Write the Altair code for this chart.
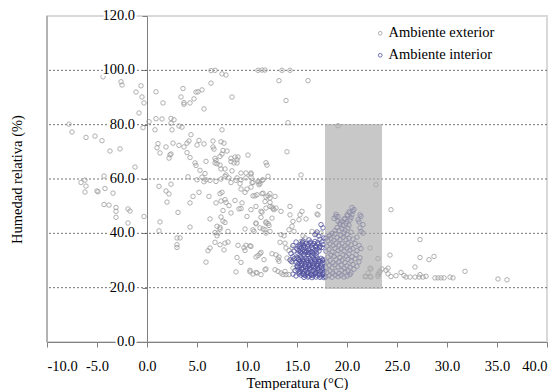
import altair as alt
import pandas as pd

# ---- data ----
series_names = ["Ambiente exterior", "Ambiente interior"]
series_colors = ["#9c9c9c", "#50509e"]

exterior = [
    (-7.8, 80.2), (-7.5, 77.3), (-6.1, 75.3), (-5.2, 75.8), (-4.5, 74.1), (-3.7, 70.3), (-2.7, 71.1),
    (-1.2, 64.4), (-4.3, 61.1), (-6.2, 59.6), (-6.6, 58.7), (-6.1, 57.4), (-6.2, 55.2), (-5.0, 55.6),
    (-4.9, 55.3), (-4.2, 56.5), (-3.4, 54.8), (-4.3, 50.6), (-3.8, 50.4), (-3.1, 49.5), (-3.1, 48.1),
    (-1.9, 49.0), (-1.7, 48.2), (-3.1, 45.9), (-1.9, 43.8), (-0.3, 46.2), (-4.4, 97.6), (-2.6, 95.8),
    (-2.5, 94.6), (-0.6, 94.3), (-1.1, 92.0), (-0.5, 90.2), (-0.3, 88.0), (-0.8, 84.3), (-0.4, 78.9),
    (0.2, 81.1), (0.9, 92.1), (1.6, 88.0), (0.9, 82.2), (1.5, 82.1), (0.8, 78.1), (2.4, 82.3),
    (2.7, 81.8), (2.4, 80.5), (2.5, 78.1), (3.2, 79.5), (3.5, 79.1), (1.1, 73.0), (1.0, 71.5),
    (1.3, 69.6), (1.9, 71.8), (2.3, 68.9), (2.2, 67.7), (2.4, 69.2), (2.6, 73.2), (3.2, 72.4),
    (3.6, 93.3), (3.4, 90.2), (3.7, 88.1), (3.7, 87.5), (4.3, 88.0), (4.7, 89.5), (4.9, 92.0),
    (5.1, 92.1), (5.5, 92.8), (5.7, 85.8), (4.4, 76.3), (3.7, 71.8), (4.0, 73.2), (4.2, 74.0),
    (4.0, 69.7), (4.3, 67.9), (4.8, 65.9), (4.9, 65.0), (5.0, 72.5), (5.2, 74.2), (5.7, 72.9),
    (5.3, 63.2), (5.8, 62.0), (5.9, 66.5), (4.1, 60.8), (5.0, 59.7), (5.5, 60.7), (5.7, 59.0),
    (1.2, 57.3), (2.4, 58.1), (1.9, 55.6), (2.2, 54.5), (2.0, 51.5), (3.1, 47.7), (1.3, 44.2),
    (1.2, 40.9), (3.0, 38.3), (3.3, 38.3), (3.0, 35.8), (3.0, 34.8), (4.3, 51.2), (4.6, 53.6),
    (5.2, 55.1), (4.3, 42.3),
    (6.4, 99.9), (6.8, 100.0), (6.4, 95.3), (7.5, 98.7), (7.9, 98.3), (8.5, 90.2), (7.5, 78.1),
    (6.6, 74.0), (6.6, 71.8), (6.7, 71.0), (7.4, 73.7), (7.7, 73.2), (7.6, 70.5), (8.0, 70.3),
    (7.5, 69.2), (7.3, 68.3), (6.8, 67.6), (6.9, 66.8), (6.8, 65.9), (7.0, 65.6), (7.3, 65.1),
    (7.8, 63.7), (7.4, 63.7), (8.4, 67.6), (8.8, 68.1), (9.0, 67.1), (9.1, 68.1), (9.0, 65.9),
    (8.7, 65.9), (8.4, 66.4), (10.1, 68.8), (8.5, 63.0), (9.4, 62.2), (9.9, 62.2), (10.4, 61.8),
    (5.9, 59.7), (6.3, 59.5), (6.9, 59.1), (7.4, 60.0), (7.9, 61.5), (7.8, 61.0), (8.2, 60.4),
    (8.4, 58.7), (8.9, 59.5), (9.0, 60.4), (9.4, 59.7), (9.9, 60.4), (10.4, 60.7), (9.3, 58.3),
    (9.4, 56.3), (9.8, 55.1), (10.0, 56.3), (10.4, 57.0), (10.5, 58.7),
    (6.2, 53.6), (6.9, 51.2), (7.3, 54.6), (7.5, 55.1), (7.4, 51.9), (7.8, 52.4), (7.9, 51.4),
    (7.6, 48.4), (6.3, 45.3), (7.4, 46.0), (7.6, 44.5), (7.8, 44.0), (7.3, 42.2), (6.8, 40.3),
    (7.1, 40.1), (7.0, 39.1), (8.1, 40.7), (6.8, 36.7), (7.3, 35.8), (7.8, 36.4), (8.1, 36.8),
    (6.3, 34.6), (6.1, 33.6), (7.7, 33.9), (5.9, 29.4), (8.8, 52.1), (9.2, 49.0), (8.2, 50.2),
    (8.4, 47.5), (9.5, 51.2), (9.4, 49.1), (10.4, 48.7), (10.0, 46.2), (9.8, 41.6), (9.1, 35.6),
    (9.7, 34.7), (9.8, 33.7), (10.4, 35.2), (9.9, 35.6), (9.0, 31.1), (9.4, 29.3), (8.9, 25.8),
    (10.3, 25.8), (10.6, 25.0), (7.0, 42.6), (7.3, 41.6),
    (11.1, 100.0), (11.5, 100.1), (11.8, 100.1), (13.5, 100.0), (14.3, 100.0), (13.2, 96.2),
    (16.1, 96.2), (13.9, 88.9), (14.1, 80.7), (14.0, 70.0), (11.9, 66.0), (12.0, 65.1), (12.1, 61.0),
    (15.4, 61.5), (10.4, 62.2), (10.6, 58.7), (11.2, 58.9), (11.6, 59.7), (11.2, 57.9), (11.3, 58.3),
    (11.5, 59.5), (11.1, 59.1), (10.6, 53.8), (11.0, 54.2), (11.5, 54.6), (12.1, 53.8), (12.3, 53.0),
    (11.8, 51.7), (12.3, 51.4), (10.9, 49.9), (12.5, 49.7), (12.9, 49.3), (12.7, 48.7), (13.4, 48.1),
    (11.5, 47.8), (12.5, 45.6), (14.3, 46.8), (14.3, 49.9), (10.9, 43.8), (11.9, 43.8), (12.1, 43.6),
    (11.3, 42.0), (11.8, 41.3), (12.3, 40.7), (10.7, 40.7), (14.6, 44.4), (14.5, 42.6), (14.2, 41.3),
    (14.7, 40.7), (13.4, 39.5), (13.7, 39.1), (13.3, 36.7), (13.8, 36.4), (10.3, 35.4), (11.4, 33.0),
    (11.1, 31.8), (10.9, 31.3), (11.7, 30.3), (12.5, 32.5), (12.9, 32.1), (13.2, 31.3), (13.1, 30.5),
    (13.2, 29.7), (13.9, 34.6), (14.2, 33.7), (14.5, 34.6), (14.0, 30.9), (14.4, 29.7), (10.3, 26.4),
    (11.0, 25.4), (11.4, 24.8), (10.9, 25.6), (11.9, 26.9), (11.8, 26.6), (12.8, 26.6), (13.1, 26.0),
    (13.4, 25.4), (13.6, 24.8), (13.9, 24.8), (14.2, 24.8), (13.8, 26.0), (14.8, 30.9), (14.6, 27.2),
    (11.3, 32.5), (11.4, 45.9), (11.4, 48.1), (11.9, 49.3), (12.3, 49.9), (12.6, 49.1), (11.6, 54.8),
    (11.9, 53.4), (12.3, 54.6), (12.8, 53.6), (11.6, 41.6), (11.9, 40.1), (10.9, 43.5), (11.9, 44.2),
    (12.2, 42.9), (10.8, 53.8), (10.6, 41.3),
    (15.3, 46.8), (15.5, 48.1), (15.2, 45.0), (15.9, 45.3), (17.2, 49.9), (17.1, 46.8), (17.0, 47.1),
    (15.6, 39.1), (15.8, 38.3), (15.4, 37.0), (16.5, 40.7), (16.9, 39.9), (17.4, 40.1), (19.1, 79.6),
    (22.9, 57.9), (24.4, 48.7), (22.3, 34.6), (23.1, 30.7), (22.3, 27.2), (22.1, 25.4), (21.9, 24.1),
    (22.3, 24.1), (23.1, 24.8), (23.3, 26.0), (23.5, 26.9), (23.9, 26.4), (24.1, 25.1), (24.1, 27.2),
    (24.4, 24.1), (24.9, 24.4), (25.4, 25.6), (25.7, 24.5), (25.9, 23.9), (26.3, 23.9), (26.8, 23.9),
    (27.2, 23.9), (27.3, 24.8), (27.6, 23.9), (27.9, 24.2), (26.8, 27.6), (27.3, 37.7), (27.3, 31.1),
    (28.2, 30.3), (28.7, 31.5), (24.3, 32.0), (28.8, 23.6), (29.1, 23.6), (29.4, 23.6), (29.7, 23.6),
    (30.3, 23.9), (30.6, 23.6), (31.8, 26.0), (35.1, 23.2), (36.0, 22.9), (22.4, 26.9), (22.4, 23.9),
    (23.1, 24.1), (23.2, 25.4), (21.8, 24.1),
]

interior = [
    # dense block, upper lobe
    (15.1, 35.2), (15.3, 35.8), (15.5, 36.1), (15.7, 35.5), (15.9, 36.3), (16.1, 35.9), (16.3, 36.4),
    (16.5, 35.7), (16.7, 36.2), (16.9, 35.4), (17.1, 36.0), (17.3, 35.3), (17.5, 34.8), (17.6, 35.9),
    (15.0, 34.3), (15.2, 33.6), (15.4, 34.5), (15.6, 33.9), (15.8, 34.6), (16.0, 33.4), (16.2, 34.1),
    (16.4, 33.2), (16.6, 34.4), (16.8, 33.7), (17.0, 34.2), (17.2, 33.5),
    (15.1, 32.6), (15.3, 32.1), (15.5, 32.8), (15.7, 32.3), (15.9, 32.9), (16.1, 32.2), (16.3, 32.7),
    (16.5, 32.0), (16.7, 32.5), (16.9, 31.8),
    (15.25, 35.0), (15.65, 34.9), (16.05, 35.1), (16.45, 34.8), (16.85, 35.0), (17.25, 34.7),
    (15.35, 33.1), (15.75, 33.3), (16.15, 32.9), (16.55, 33.0), (16.95, 32.8), (15.55, 36.6),
    (16.35, 36.8), (17.05, 36.5),
    # dense block, lower part
    (15.0, 30.8), (15.2, 30.2), (15.4, 31.0), (15.6, 30.4), (15.8, 30.9), (16.0, 30.1), (16.2, 30.7),
    (16.4, 30.3), (16.6, 31.0), (16.8, 30.5), (17.0, 30.9), (17.2, 30.2), (17.4, 30.8), (17.6, 30.4),
    (14.9, 29.4), (15.1, 28.8), (15.3, 29.6), (15.5, 28.9), (15.7, 29.5), (15.9, 28.7), (16.1, 29.3),
    (16.3, 28.6), (16.5, 29.4), (16.7, 28.8), (16.9, 29.5), (17.1, 28.9), (17.3, 29.6), (17.5, 28.7),
    (17.7, 29.3),
    (15.0, 28.0), (15.2, 27.4), (15.4, 28.1), (15.6, 27.3), (15.8, 27.9), (16.0, 27.2), (16.2, 28.0),
    (16.4, 27.5), (16.6, 28.2), (16.8, 27.4), (17.0, 28.0), (17.2, 27.3), (17.4, 27.9), (17.6, 27.1),
    (15.1, 26.5), (15.3, 26.0), (15.5, 26.6), (15.7, 25.9), (15.9, 26.4), (16.1, 25.8), (16.3, 26.5),
    (16.5, 25.9), (16.7, 26.3), (16.9, 25.7), (17.1, 26.4), (17.3, 25.9), (17.5, 26.5), (17.7, 25.8),
    (15.2, 25.1), (15.4, 24.6), (15.6, 25.2), (15.8, 24.5), (16.0, 25.0), (16.2, 24.3), (16.4, 24.9),
    (16.6, 24.4), (16.8, 25.1), (17.0, 24.6), (17.2, 25.0), (17.4, 24.3), (17.6, 24.8), (17.8, 24.2),
    (15.7, 23.8), (16.1, 23.9), (16.5, 23.7), (16.9, 23.9), (17.3, 23.8), (17.7, 23.7),
    (15.15, 30.5), (15.55, 29.9), (15.95, 30.6), (16.35, 29.8), (16.75, 30.2), (17.15, 29.7),
    (17.55, 30.0), (15.05, 27.7), (15.45, 27.0), (15.85, 27.6), (16.25, 26.9), (16.65, 27.7),
    (17.05, 27.0), (17.45, 27.5), (15.25, 25.6), (15.65, 24.9), (16.05, 25.5), (16.45, 24.7),
    (16.85, 25.4), (17.25, 24.8), (17.65, 25.3), (15.45, 29.1), (16.15, 28.4), (16.95, 28.3),
    (14.3, 30.2), (14.5, 29.5), (14.7, 30.6), (14.6, 31.4), (14.4, 32.6), (14.7, 33.5), (14.9, 36.8),
    (14.6, 35.5), (14.6, 25.0), (14.8, 26.3), (14.9, 24.3),
    (15.6, 37.2), (16.2, 37.6), (16.8, 37.0), (17.3, 37.8), (17.7, 38.3), (17.5, 36.9),
    # inside the comfort band
    (17.9, 23.9), (18.2, 24.4), (18.5, 23.8), (18.8, 24.6), (19.1, 24.0), (19.4, 24.5), (19.7, 23.9),
    (20.0, 24.3), (20.3, 24.8), (18.0, 25.6), (18.3, 26.2), (18.6, 25.4), (18.9, 26.0), (19.2, 25.3),
    (19.5, 26.4), (19.8, 25.7), (20.1, 26.1), (20.4, 25.5), (20.7, 26.8),
    (17.9, 27.5), (18.2, 28.1), (18.5, 27.3), (18.8, 28.4), (19.1, 27.7), (19.4, 28.3), (19.7, 27.2),
    (20.0, 28.0), (20.3, 27.6), (20.6, 28.5), (21.0, 27.9),
    (18.0, 29.4), (18.3, 30.0), (18.6, 29.2), (18.9, 30.3), (19.2, 29.6), (19.5, 30.1), (19.8, 29.3),
    (20.1, 30.4), (20.4, 29.8), (20.8, 30.6), (21.2, 29.5),
    (18.1, 31.3), (18.4, 32.0), (18.7, 31.5), (19.0, 32.3), (19.3, 31.1), (19.6, 32.1), (19.9, 31.6),
    (20.2, 32.4), (20.5, 31.4), (20.9, 32.2), (21.3, 31.0),
    (17.9, 33.4), (18.2, 34.0), (18.5, 33.2), (18.8, 34.5), (19.1, 33.7), (19.4, 34.2), (19.7, 33.5),
    (20.0, 34.6), (20.3, 33.8), (20.6, 34.3), (21.0, 33.6), (21.4, 34.4),
    (18.0, 35.3), (18.3, 36.0), (18.6, 35.5), (18.9, 36.4), (19.2, 35.7), (19.5, 36.2), (19.8, 35.4),
    (20.1, 36.5), (20.4, 35.8), (20.8, 36.3), (21.2, 35.6),
    (18.1, 37.3), (18.4, 38.0), (18.7, 37.5), (19.0, 38.4), (19.3, 37.7), (19.6, 38.5), (19.9, 37.6),
    (20.2, 38.2), (20.6, 37.9), (21.0, 38.6),
    (18.3, 39.4), (18.8, 39.8), (19.4, 39.3), (19.7, 40.2), (20.0, 39.6), (20.4, 40.4), (21.4, 40.7),
    (21.6, 40.1),
    (19.2, 41.0), (19.5, 41.8), (19.8, 41.2), (20.1, 42.0), (19.6, 42.9), (19.9, 43.6), (20.2, 43.0),
    (20.0, 44.3), (20.3, 44.9), (19.7, 45.2), (20.4, 45.8), (20.1, 46.5), (20.5, 46.9), (20.3, 47.6),
    (20.6, 48.2), (20.7, 48.8), (20.5, 49.5),
    (17.9, 38.2), (18.2, 39.0), (18.5, 40.0), (18.8, 41.0), (19.0, 42.1), (19.3, 43.3), (19.5, 44.4),
    (19.8, 45.5), (20.0, 46.8), (20.2, 47.9), (18.9, 47.0), (19.1, 46.2), (18.7, 45.5), (19.1, 44.4),
    (19.3, 43.8), (18.9, 46.2),
    (21.1, 45.0), (21.3, 42.0), (21.4, 46.2), (21.3, 46.8), (21.6, 43.2), (21.2, 44.2),
    (17.4, 43.2), (17.6, 42.0), (17.0, 40.5), (16.8, 39.5), (17.2, 39.0),
]

comfort_temp = [17.8, 23.5]
comfort_hum = [19.5, 80.2]

x_ticks = [-10, -5, 0, 5, 10, 15, 20, 25, 30, 35, 40]
y_ticks = [0, 20, 40, 60, 80, 100, 120]
y_tick_labels = ["0.0", "20.0", "40.0", "60.0", "80.0", "100.0", "120.0"]
grid_values = [20, 40, 60, 80, 100]

# ---- tables ----
pts = pd.DataFrame(
    [(t, h, series_names[0]) for t, h in exterior] + [(t, h, series_names[1]) for t, h in interior],
    columns=["temp", "hum", "serie"],
)
band = pd.DataFrame({"t1": [comfort_temp[0]], "t2": [comfort_temp[1]],
                     "h1": [comfort_hum[0]], "h2": [comfort_hum[1]]})
grid = pd.DataFrame({"g": grid_values})
ylab = pd.DataFrame({"v": y_ticks, "lab": y_tick_labels})
frame = pd.DataFrame({"a": [0]})

FONT = "Liberation Serif, Times New Roman, serif"
xs = alt.Scale(domain=[-10, 40], nice=False, zero=False)
ys = alt.Scale(domain=[0, 120], nice=False, zero=False)

x_axis = alt.Axis(
    values=x_ticks, grid=False, labelFont=FONT, labelFontSize=14.5,
    labelExpr="(datum.value < 0 ? '-' : '') + format(abs(datum.value), '.1f')",
    labelColor="black", tickColor="#808080", domainColor="#808080", tickSize=5,
    labelPadding=12, title="Temperatura (°C)", titleFont=FONT, titleFontSize=14.5,
    titleFontWeight="normal", titleColor="black", titlePadding=4)
y_axis = alt.Axis(
    values=y_ticks, labels=False, grid=False, offset=-100, tickSize=5,
    tickColor="#808080", domainColor="#808080",
    title="Humedad relativa (%)", titleFont=FONT, titleFontSize=14.5,
    titleFontWeight="normal", titleColor="black", titleX=-130, titleY=163,
    titleBaseline="middle")

grid_layer = alt.Chart(grid).mark_rule(color="#505050", strokeDash=[2, 2], strokeWidth=0.8).encode(
    y=alt.Y("g:Q", scale=ys, axis=y_axis)
)

points = alt.Chart(pts).mark_point(filled=False, size=20, strokeWidth=0.8, opacity=1).encode(
    x=alt.X("temp:Q", scale=xs, axis=x_axis),
    y=alt.Y("hum:Q", scale=ys, axis=y_axis),
    color=alt.Color("serie:N", scale=alt.Scale(domain=series_names, range=series_colors),
                    legend=alt.Legend(title=None, orient="none", legendX=326, legendY=10,
                                      labelFont=FONT, labelFontSize=14.5, labelColor="black",
                                      symbolType="circle", symbolSize=14, symbolStrokeWidth=0.8,
                                      rowPadding=7, labelOffset=1, padding=0)),
)

band_layer = alt.Chart(band).mark_rect(color="#aaaaaa", opacity=0.65).encode(
    x=alt.X("t1:Q", scale=xs, axis=x_axis), x2="t2",
    y=alt.Y("h1:Q", scale=ys, axis=y_axis), y2="h2",
)

left_edge = alt.Chart(frame).mark_rule(color="#8c8c8c", strokeWidth=1).encode(
    x=alt.value(0), y=alt.value(0), y2=alt.value(326)
)

halo = alt.Chart(ylab).mark_text(align="right", baseline="middle", font=FONT, fontSize=14.5,
                                 color="white", stroke="white", strokeWidth=4).encode(
    x=alt.value(88), y=alt.Y("v:Q", scale=ys, axis=y_axis), text="lab:N"
)
labels = alt.Chart(ylab).mark_text(align="right", baseline="middle", font=FONT, fontSize=14.5,
                                   color="black").encode(
    x=alt.value(88), y=alt.Y("v:Q", scale=ys, axis=y_axis), text="lab:N"
)

chart = alt.layer(grid_layer, points, band_layer, left_edge, halo, labels).properties(
    width=500, height=326,
    autosize=alt.AutoSizeParams(type="none"),
    padding={"left": 39, "top": 8, "right": 3, "bottom": 48},
).configure_view(stroke="#d9d9d9", strokeWidth=2)

chart.save("out.html", embed_options={"renderer": "svg", "actions": False})
